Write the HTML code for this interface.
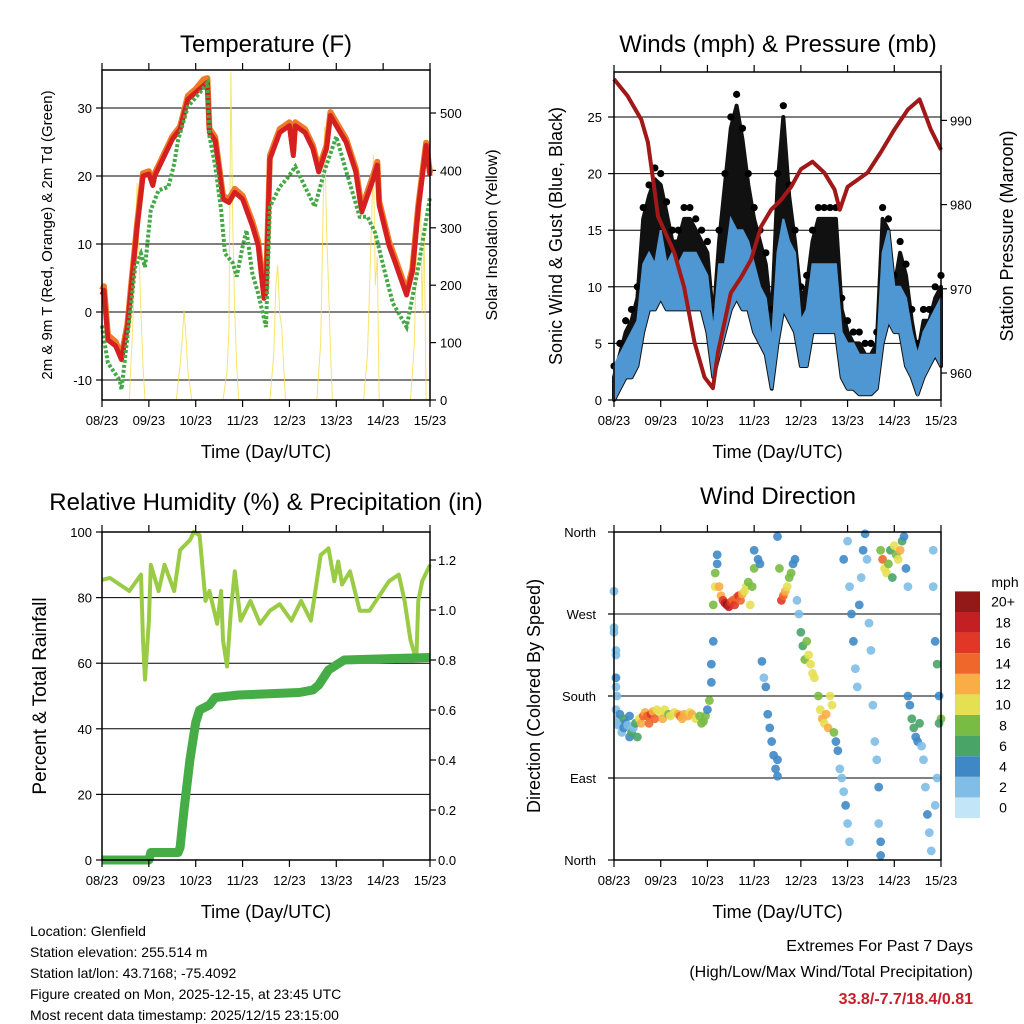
<!DOCTYPE html>
<html><head><meta charset="utf-8"><style>
html,body{margin:0;padding:0;background:#fff;}
svg{display:block;font-family:"Liberation Sans",sans-serif;}
</style></head><body>
<svg id="s" width="1024" height="1024" viewBox="0 0 1024 1024" xmlns="http://www.w3.org/2000/svg"></svg>
<script>
// ---------- DATA ----------
const dayLabels = ["08/23","09/23","10/23","11/23","12/23","13/23","14/23","15/23"];
const redHours = [0,1,3,7,10,13,15,18,21,24,26,27,32,36,40,44,48,52,54,55,58,62,65,68,72,77,80,83,84,86,91,96,98,99,104,108,111,115,117,120,125,130,133,139,141,142,147,150,156,159,162,166,168];
const redTemp  = [2.5,3.2,-4.1,-5,-7,-2.3,3.7,12.5,20,20.3,18.6,20,23,25.4,26.9,31.3,32.3,33.3,33.8,26.4,25.2,16.6,16.1,17.6,16.6,12.7,9.8,2,2.9,22.5,26.4,27.4,23,27.4,26.4,24,20.6,24,28.9,27.4,25,20.6,14.7,19.6,21.6,15.7,9.8,7.4,2.5,5.9,15.2,24.5,20];
const orangeTemp=[3.2,3.8,-3.4,-4.4,-6.4,-1.8,4.2,13,20.4,20.7,19,20.4,23.4,25.8,27.3,31.8,32.8,34.2,34.4,27,25.7,17.1,16.6,18.1,17.1,13.3,10.4,2.6,3.5,23,26.9,27.9,23.6,27.9,26.9,24.5,21.1,24.5,29.4,27.9,25.5,21.1,15.3,20.2,22.1,16.3,10.4,8,3.1,6.4,15.7,24.9,20.4];
const tdHours = [0,1,3,9,10,14,17,20,22,25,29,34,37,39,44,50,54,55,58,61,63,67,69,72,74,77,80,84,86,91,95,99,104,109,114,120,125,132,136,140,145,149,152,156,162,168];
const tdTemp  = [-2,-4,-7.5,-10,-11.4,-1.2,6.6,8.6,6.6,15,17.9,18.4,21.8,25.3,30.2,32.2,33.7,25.9,21.5,15,8.6,7.2,5.2,9.6,12,5.7,2.7,-2.2,15.5,18.4,19.7,21.4,18.4,15.5,20.8,25.8,20.8,14,14,11.6,5.7,1.3,-0.2,-2.2,6.6,16.9];
const solarHours=[14,16,17,18,19,20,21,22, 38,40,41,42,43,44,46, 62,64,65,66,67,68,69,70, 86,88,89,90,91,92,93,94, 110,112,113,114,115,116,117,118, 134,136,138,139,140,141,142, 158,160,161,163,164,165,166];
const solarW   =[0,150,280,378,250,150,60,0, 0,60,100,157,110,50,0, 0,50,120,571,300,150,60,0, 0,80,200,235,150,130,60,0, 0,100,280,476,300,200,90,0, 0,80,300,427,200,250,0, 0,100,250,400,150,300,0];

const windHours=[0,3,6,9,12,15,18,21,24,27,30,33,36,39,42,45,48,51,54,57,60,63,66,69,72,75,78,81,84,87,90,93,96,99,102,105,108,111,114,117,120,123,126,129,132,135,138,141,144,147,150,153,156,159,162,165,168];
const windLow  =[0,1,2,2,3,6,8,8,9,8,8,8,8,8,8,8,6,2,4,6,8,9,8,8,6,5,4,1,5,8,7,6,3,3,6,6,6,6,6,2,1,1,0.5,0.5,0.5,1,5,7,6,6,3,2,0.5,2,3,4,3];
const windHigh =[3,4,5,6,7,12,13,12,15,12,13,12,13,13,13,12,11,6,12,12,16,15,15,14,12,10,9,5,13,16,14,13,7,8,12,12,12,12,12,6,5,5,4,4,4,4,13,15,10,10,9,6,4,6,7,8,9];
const windGust =[3,5,7,8,10,17,19,20.5,20,17.5,15,15,17,17,16,15,14,8,15,20,25,27,24,20,17,15,13,8,20,26,19,15,10,11,15,17,17,17,17,9,7,6,6,5,5,6,17,16,11,14,12,8,5,8,8,10,11];
const presHours=[0,7,14,17.4,21,22.6,31,36,41.4,46.5,50.8,53.4,60,65.4,70.5,75.6,80.7,86,91,96,102,108,113.3,116,120,130.3,137,144,151,157,162.8,168];
const presMb   =[994.9,992.9,990.1,987.4,981.4,978.6,974.3,970.2,963.6,959.5,958.2,962.4,969.5,971.4,973.5,977.4,979.4,980.6,982.1,984.2,985.1,983.8,981.8,979.4,982.1,983.8,986.2,988.9,991.3,992.5,988.9,986.5];

const rhHours=[0,4,9,14,20,21,22,24,25,29,32,37,40,45,47,50,53,55,59,61,62,64,66,68,71,76,81,86,91,97,102,107,112,116,119,121,123,127,132,137,147,152,155,158,161,162,164,168];
const rhPct  =[85.4,86,84,82,87,67,55,73,90,82,90,82,94.5,97.5,100,99,79,82,72,82,67,59,76,88,73,79,72,76,78,73,79,73,93,95,85,91,84,88,76,76,85,87,79,67,61,79,85,90];
const rainHours=[0,24,25,39,40,42,45,48,50,55,58,70,101,108,111,116,124,168];
const rainIn   =[0,0,0.03,0.03,0.05,0.2,0.4,0.55,0.6,0.62,0.65,0.66,0.67,0.68,0.7,0.76,0.8,0.81];

const dirHours=[0,0,0,1,1,1,1,1.5, 1,2,2,3,3,4,5,5,6,7,8,8,9,10,11,12, 13,14,15,16,17,18,19,20,21,22,24,25,26,28,29,31,33,34,35,36,38,39,40,42,44,45,46,47, 48,49,50,50,51,51,52,52,53,53,54,55, 56,57,58,59,60,61,62,63,64,65,66,67,68,69,70,71,72, 72,74,75,76,77,78,79,80,81,82,83,84,84, 84,85,86,87,88,89,90,91,92,93,94,95, 96,97,98,99,100,101,102,103, 105,106,107,108,109,110,111,112,113, 114,115,116,117,118,119,120,121,120,118,121,122,123,124,125,126,127,128,129,130,131,132,133,134,135,136,136,137,137, 137,138,139,140,141,142,143,144,145,146,147,148,149,150,151, 151,152,153,154,155,156,157,158,159,160,161,162,163,164,164,165,166,167,168,167,166,165];
const dirDeg=[295,255,250,230,225,200,190,180, 165,155,148,160,150,140,155,145,150,148,135,158,140,145,150,135, 155,150,158,162,158,150,160,163,155,165,162,155,165,160,158,162,160,158,155,160,158,162,160,155,158,150,152,158, 165,175,195,215,240,280,300,315,325,335,300,290, 285,282,280,278,283,285,280,288,290,285,292,295,300,305,280,300,320, 340,330,325,218,200,190,160,145,130,115,100,92,110, 355,320,285,290,295,300,310,315,325,330,285,270, 250,235,220,240,225,215,205,200, 180,165,155,150,160,145,180,170,140, 130,120,100,90,75,60,40,20,350,330,300,270,240,210,190,280,310,340,358,330,260,230,170,130,110,80,40,20,5, 340,330,320,315,325,340,310,345,335,330,340,350,355,320,300, 180,170,155,145,135,130,150,125,110,80,50,30,10,340,300,240,215,180,155,150,90,60];
const dirSpeed=[1,2,1,2,2,3,2,2, 2,2,1,3,2,2,5,3,4,2,3,3,6,2,6,5, 10,11,13,12,14,13,15,12,14,10,9,11,9,8,10,9,12,13,12,11,12,10,11,9,8,7,8,7, 4,7,4,4,4,8,10,8,4,4,12,11, 16,18,19,17,16,14,15,13,16,14,12,10,9,8,10,8,8, 4,3,3,3,2,3,3,4,3,3,3,4,4, 4,7,15,14,12,10,7,8,4,3,2,1, 5,6,8,7,9,10,10,9, 8,9,11,10,12,12,10,9,8, 4,3,2,2,2,3,2,2,2,3,2,3,3,2,2,3,2,3,4,2,2,1,1,1,1,3,2,3,4, 8,14,9,10,7,6,5,9,8,10,11,6,4,3,2, 3,4,5,6,4,3,5,2,2,2,3,1,2,2,1,4,5,4,7,6,1,2];
const speedBinColors=["#c2e5f8","#80bde7","#3f88c6","#49a468","#79bb43","#e5e052","#f8ad45","#f0672b","#e03726","#c41f22","#931818"];
const speedBinLabels=["0","2","4","6","8","10","12","14","16","18","20+"];

// ---------- HELPERS ----------
const svg=document.getElementById('s');
const NS="http://www.w3.org/2000/svg";
function mk(tag,attrs,parent){const e=document.createElementNS(NS,tag);for(const k in attrs)e.setAttribute(k,attrs[k]);(parent||svg).appendChild(e);return e;}
function txt(str,x,y,size,anchor,parent,extra){const t=mk('text',Object.assign({x:x,y:y,'font-size':size,'text-anchor':anchor||'start',fill:'#000'},extra||{}),parent);t.textContent=str;return t;}
function linePath(xs,ys,fx,fy){return xs.map((v,i)=>(i?'L':'M')+fx(v).toFixed(1)+','+fy(ys[i]).toFixed(1)).join(' ');}

function panel(name,x0,x1,y0,y1){
  const g=mk('g',{});
  
  
  const fx=h=>x0+(h/168)*(x1-x0);
  return {g,fx,x0,x1,y0,y1};
}
function frameAndXAxis(p,xlabelY){
  for(let d=0;d<8;d++){
    const x=p.fx(d*24);
    mk('line',{x1:x,y1:p.y1,x2:x,y2:p.y1+7,stroke:'#000','stroke-width':1.2},p.g);
    mk('line',{x1:x,y1:p.y0,x2:x,y2:p.y0-7,stroke:'#000','stroke-width':1.2},p.g);
    const t=txt(dayLabels[d],x,p.y1+25,13,'middle',p.g);
    
    
  }
  const r=mk('rect',{x:p.x0,y:p.y0,width:p.x1-p.x0,height:p.y1-p.y0,fill:'none',stroke:'#000','stroke-width':1.5},p.g);
  
  
  const xl=txt('Time (Day/UTC)',(p.x0+p.x1)/2,xlabelY,18,'middle',p.g);
  
  
}
function yTicks(p,vals,labels,fy,side,grid,labelX){
  vals.forEach((v,i)=>{
    const y=fy(v);
    if(grid){const gl=mk('line',{x1:p.x0,y1:y,x2:p.x1,y2:y,stroke:'#000','stroke-width':1},p.g);
      
      }
    const xx=side==='left'?p.x0:p.x1;
    mk('line',{x1:xx,y1:y,x2:side==='left'?xx-6:xx+6,y2:y,stroke:'#000','stroke-width':1.2},p.g);
    const t=txt(labels[i],labelX,y+5,13,side==='left'?'end':'start',p.g);
    
    
  });
}
function title(str,x,y,size){const t=txt(str,x,y,size||24,'middle');}
function vlabel(str,x,y,size,name){const t=txt(str,0,0,size,'middle',svg,{transform:`translate(${x},${y}) rotate(-90)`});}

// ---------- PANEL 1: TEMPERATURE ----------
{
  const p=panel('temperature-panel',102,430,70,400);
  const fy=v=>312-v*6.8;
  const fs=w=>400-w*0.574;
  yTicks(p,[-10,0,10,20,30],['-10','0','10','20','30'],fy,'left',true,92);
  yTicks(p,[0,100,200,300,400,500],['0','100','200','300','400','500'],fs,'right',false,440);
  const sol=mk('path',{d:linePath(solarHours,solarW,p.fx,fs),fill:'none',stroke:'#f6dc45','stroke-width':1,'stroke-opacity':0.8},p.g);
  
  
  const o=mk('path',{d:linePath(redHours,orangeTemp,p.fx,fy),fill:'none',stroke:'#f07a28','stroke-width':6,'stroke-linejoin':'round'},p.g);
  
  
  const r=mk('path',{d:linePath(redHours,redTemp,p.fx,fy),fill:'none',stroke:'#d42020','stroke-width':5,'stroke-linejoin':'round'},p.g);
  
  
  const gr=mk('path',{d:linePath(tdHours,tdTemp,p.fx,fy),fill:'none',stroke:'#44a944','stroke-width':4,'stroke-dasharray':'3 2'},p.g);
  
  
  frameAndXAxis(p,458);
  title('Temperature (F)',266,52);
  vlabel('2m & 9m T (Red, Orange) & 2m Td (Green)',52,235,15,'y-axis-title-left');
  vlabel('Solar Insolation (Yellow)',497,235,16,'y-axis-title-right');
}

// ---------- PANEL 2: WINDS ----------
{
  const p=panel('winds-panel',614,941,72,400);
  const fy=v=>400-v*11.32;
  const fp=v=>373-(v-960)*8.42;
  yTicks(p,[0,5,10,15,20,25],['0','5','10','15','20','25'],fy,'left',true,602);
  yTicks(p,[960,970,980,990],['960','970','980','990'],fp,'right',false,950);
  let d='M'+windHours.map((h,i)=>p.fx(h).toFixed(1)+','+fy(windGust[i]-1).toFixed(1)).join(' L');
  d+=' L'+windHours.slice().reverse().map((h,j)=>{const i=windHours.length-1-j;return p.fx(h).toFixed(1)+','+fy(windLow[i]).toFixed(1);}).join(' L')+'Z';
  const gc=mk('path',{d:d,fill:'#111',stroke:'#111','stroke-width':4,'stroke-linejoin':'round'},p.g);
  
  
  windHours.forEach((h,i)=>{
    const c=mk('circle',{cx:p.fx(h),cy:fy(windGust[i]),r:3.6,fill:'#000'},p.g);
    
    
  });
  let b='M'+windHours.map((h,i)=>p.fx(h).toFixed(1)+','+fy(windHigh[i]).toFixed(1)).join(' L');
  b+=' L'+windHours.slice().reverse().map((h,j)=>{const i=windHours.length-1-j;return p.fx(h).toFixed(1)+','+fy(windLow[i]).toFixed(1);}).join(' L')+'Z';
  const bl=mk('path',{d:b,fill:'#4f97d2',stroke:'#4f97d2','stroke-width':2},p.g);
  
  
  const pr=mk('path',{d:linePath(presHours,presMb,p.fx,fp),fill:'none',stroke:'#a01818','stroke-width':4,'stroke-linejoin':'round'},p.g);
  
  
  frameAndXAxis(p,458);
  title('Winds (mph) & Pressure (mb)',778,52);
  vlabel('Sonic Wind & Gust (Blue, Black)',562,236,18,'y-axis-title-left');
  vlabel('Station Pressure (Maroon)',1013,236,18,'y-axis-title-right');
}

// ---------- PANEL 3: RH & PRECIP ----------
{
  const p=panel('humidity-precip-panel',102,430,532,860);
  const fy=v=>860-v*3.28;
  const fr=v=>860-v*250;
  yTicks(p,[0,20,40,60,80,100],['0','20','40','60','80','100'],fy,'left',true,92);
  yTicks(p,[0,0.2,0.4,0.6,0.8,1.0,1.2],['0.0','0.2','0.4','0.6','0.8','1.0','1.2'],fr,'right',false,438);
  const rh=mk('path',{d:linePath(rhHours,rhPct,p.fx,fy),fill:'none',stroke:'#9acb45','stroke-width':4,'stroke-linejoin':'round'},p.g);
  
  
  const rn=mk('path',{d:linePath(rainHours,rainIn,p.fx,fr),fill:'none',stroke:'#46ac46','stroke-width':9,'stroke-linejoin':'round'},p.g);
  
  
  frameAndXAxis(p,918);
  title('Relative Humidity (%) & Precipitation (in)',266,510);
  vlabel('Percent & Total Rainfall',46,696,19,'y-axis-title-left');
}

// ---------- PANEL 4: WIND DIRECTION ----------
{
  const p=panel('wind-direction-panel',614,941,532,860);
  const fy=v=>860-v*(328/360);
  yTicks(p,[0,90,180,270,360],['North','East','South','West','North'],fy,'left',true,596);
  dirHours.forEach((h,i)=>{
    const bin=Math.min(10,Math.round(dirSpeed[i]/2));
    const c=mk('circle',{cx:p.fx(h),cy:fy(Math.min(360,dirDeg[i])),r:4.4,fill:speedBinColors[bin],'fill-opacity':0.9},p.g);
    
    
  });
  frameAndXAxis(p,918);
  title('Wind Direction',778,504);
  vlabel('Direction (Colored By Speed)',540,696,18,'y-axis-title-left');
  const cb=mk('g',{});
  
  
  const bh=20.6;
  speedBinColors.forEach((col,i)=>{
    const y=818-(i+1)*bh;
    const r=mk('rect',{x:955,y:y,width:25,height:bh,fill:col},cb);
    
    
    const t=txt(speedBinLabels[i],1003,y+bh/2+5,14,'middle',cb);
    
    
  });
  const u=txt('mph',1005,587,14,'middle',cb);
  
  
}

// ---------- FOOTER TEXT ----------
const info=["Location: Glenfield","Station elevation: 255.514 m","Station lat/lon: 43.7168; -75.4092","Figure created on Mon, 2025-12-15, at 23:45 UTC","Most recent data timestamp: 2025/12/15 23:15:00"];
info.forEach((s,i)=>{const t=txt(s,30,936+i*21,14,'start');});
{const t=txt('Extremes For Past 7 Days',973,951,16,'end');}
{const t=txt('(High/Low/Max Wind/Total Precipitation)',973,977,16,'end');}
{const t=txt('33.8/-7.7/18.4/0.81',973,1004,16,'end',svg,{fill:'#c8202a','font-weight':'bold'});}
</script>
</body></html>
